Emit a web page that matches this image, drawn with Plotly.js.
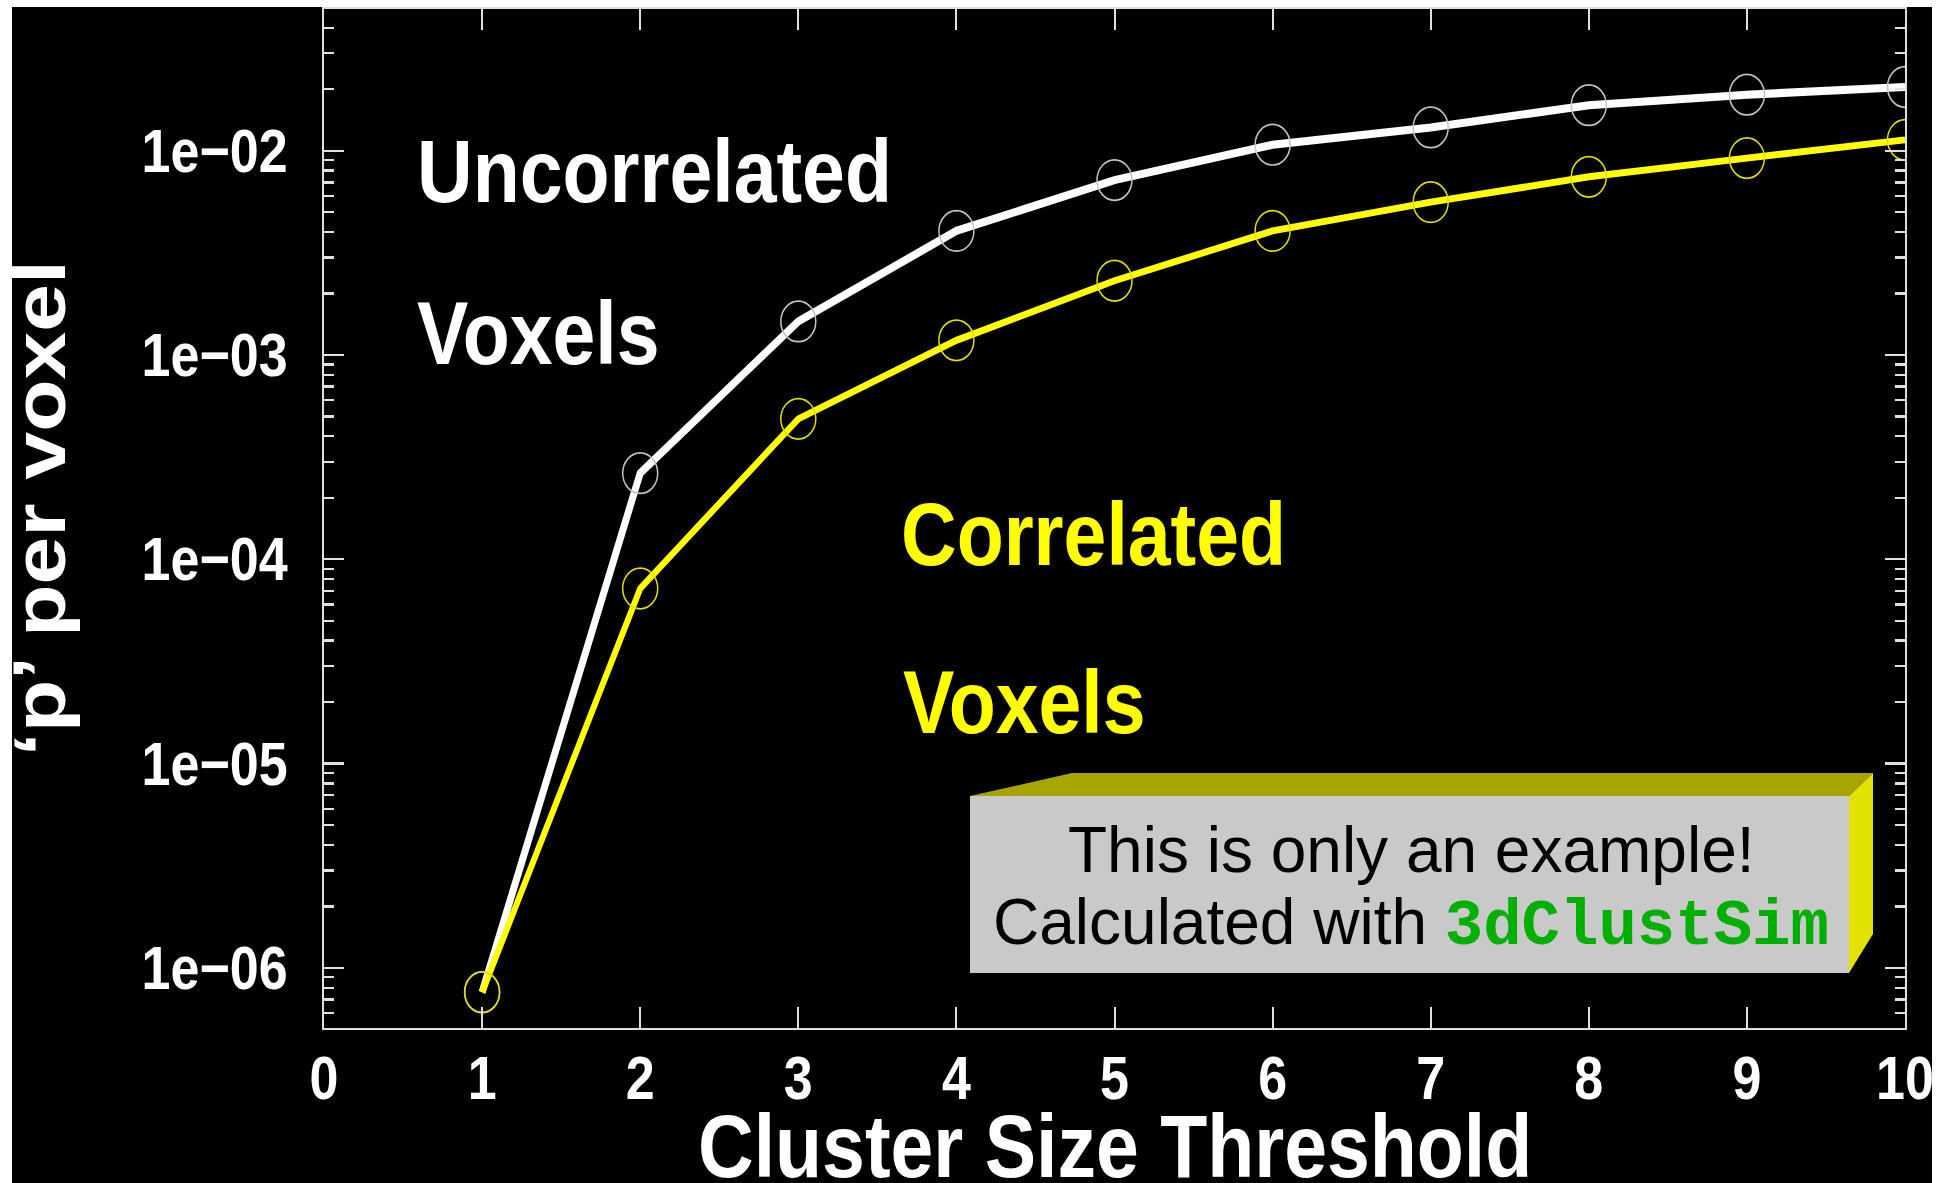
<!DOCTYPE html>
<html>
<head>
<meta charset="utf-8">
<script src="https://cdn.plot.ly/plotly-3.0.1.min.js"></script>
<style>
  html, body { margin: 0; padding: 0; background: #ffffff; width: 1948px; height: 1183px; overflow: hidden; }
  #chart { position: absolute; left: 12px; top: 7px; width: 1920px; height: 1014px;
           transform: scaleY(1.16); transform-origin: 0 0; }
  #note { position: absolute; left: 12px; top: 7px; width: 1920px; height: 1176px; pointer-events: none; }
</style>
</head>
<body>
<div id="chart"></div>
<div id="note"></div>
<script>
// ---- data ----
var clusterSize   = [1, 2, 3, 4, 5, 6, 7, 8, 9, 10];
var pUncorrelated = [7.6e-7, 2.64e-4, 1.46e-3, 4.05e-3, 7.18e-3, 1.07e-2, 1.30e-2, 1.67e-2, 1.88e-2, 2.05e-2];
var pCorrelated   = [7.6e-7, 7.2e-5, 4.87e-4, 1.18e-3, 2.31e-3, 4.05e-3, 5.6e-3, 7.45e-3, 9.2e-3, 1.13e-2];
var yTickVals  = [1e-6, 1e-5, 1e-4, 1e-3, 1e-2];
var yTickText  = ['1e\u221206', '1e\u221205', '1e\u221204', '1e\u221203', '1e\u221202'];
var xTickVals  = [0, 1, 2, 3, 4, 5, 6, 7, 8, 9, 10];

var SANS = 'Liberation Sans, Arial, Helvetica, sans-serif';
var AX = '#e0e0e0';

// page -> paper helpers for the stretched main chart (plot area in page px)
var M = {L: 324, R: 1905, T: 9.32, B: 1027.8};
function mx(p) { return (p - M.L) / (M.R - M.L); }
function my(p) { return 1 - (p - M.T) / (M.B - M.T); }

var traces = [
  {x: clusterSize, y: pUncorrelated, type: 'scatter', mode: 'lines+markers',
   line: {color: '#ffffff', width: 7},
   marker: {symbol: 'circle-open', size: 35, color: '#c4c4c4', line: {width: 1.5}},
   hoverinfo: 'skip'},
  {x: clusterSize, y: pCorrelated, type: 'scatter', mode: 'lines+markers',
   line: {color: '#ffff00', width: 6},
   marker: {symbol: 'circle-open', size: 35, color: '#dede00', line: {width: 1.5}},
   hoverinfo: 'skip'}
];

function lab(text, px, py, color, extra) {
  var a = {text: text, xref: 'paper', yref: 'paper', x: mx(px), y: my(py),
           xanchor: 'left', yanchor: 'middle', showarrow: false,
           font: {family: SANS, size: 77, color: color, weight: 'bold'}};
  for (var k in extra) a[k] = extra[k];
  return a;
}

var layout = {
  width: 1920, height: 1014,
  margin: {l: 312, r: 27, t: 2, b: 134, pad: 0},
  paper_bgcolor: '#000000', plot_bgcolor: '#000000',
  showlegend: false,
  xaxis: {range: [0, 10], tickmode: 'array', tickvals: xTickVals,
          ticks: 'inside', ticklen: 18, tickwidth: 2, tickcolor: AX,
          showline: true, linecolor: AX, linewidth: 2, mirror: 'ticks',
          showgrid: false, zeroline: false, ticklabelstandoff: -3,
          ticklabeloverflow: 'allow',
          tickfont: {family: SANS, size: 52, color: '#ffffff', weight: 'bold'}},
  yaxis: {type: 'log', range: [-6.293, -1.308], tickmode: 'array',
          tickvals: yTickVals, ticktext: yTickText,
          ticks: 'inside', ticklen: 20, tickwidth: 2, tickcolor: AX,
          minor: {ticks: 'inside', ticklen: 10, tickwidth: 2, tickcolor: AX, dtick: 'D1', showgrid: false},
          showline: true, linecolor: AX, linewidth: 2, mirror: 'ticks',
          showgrid: false, zeroline: false, ticklabelstandoff: 24,
          ticklabeloverflow: 'allow',
          tickfont: {family: SANS, size: 52, color: '#ffffff', weight: 'bold'}},
  annotations: [
    lab('Uncorrelated', 415, 170, '#ffffff'),
    lab('Voxels', 415, 333.5, '#ffffff'),
    lab('Correlated', 899, 534, '#ffff00'),
    lab('Voxels', 901, 702, '#ffff00'),
    lab('Cluster Size Threshold', 1115, 1146, '#ffffff', {xanchor: 'center'}),
    lab('\u2018p\u2019 per voxel', 40, 508, '#ffffff', {xanchor: 'center', textangle: -90, font: {family: SANS, size: 74, color: '#ffffff', weight: 'bold'}})
  ]
};

Plotly.newPlot('chart', traces, layout, {displayModeBar: false, staticPlot: true});

// ---- overlay: the 3-D note box (not stretched) ----
var N = {L: 324, R: 1905, T: 9, B: 1028};
function nx(p) { return (p - N.L) / (N.R - N.L); }
function ny(p) { return 1 - (p - N.T) / (N.B - N.T); }
function pathOf(pts) {
  return pts.map(function (q, i) { return (i ? 'L' : 'M') + nx(q[0]) + ',' + ny(q[1]); }).join(' ') + ' Z';
}
var box = {x0: 970, x1: 1849, y0: 796, y1: 973, dx: 24, dyTop: 23, backLeft: 1072, rightBottom: 934};

var noteLayout = {
  width: 1920, height: 1176,
  margin: {l: 312, r: 27, t: 2, b: 155, pad: 0},
  paper_bgcolor: 'rgba(0,0,0,0)', plot_bgcolor: 'rgba(0,0,0,0)',
  showlegend: false,
  xaxis: {visible: false, range: [0, 1]},
  yaxis: {visible: false, range: [0, 1]},
  shapes: [
    {type: 'path', xref: 'paper', yref: 'paper', layer: 'above', line: {width: 0},
     fillcolor: '#a9a500',
     path: pathOf([[box.x0, box.y0], [box.backLeft, box.y0 - box.dyTop], [box.x1 + box.dx, box.y0 - box.dyTop], [box.x1, box.y0]])},
    {type: 'path', xref: 'paper', yref: 'paper', layer: 'above', line: {width: 0},
     fillcolor: '#e2e200',
     path: pathOf([[box.x1, box.y0], [box.x1 + box.dx, box.y0 - box.dyTop], [box.x1 + box.dx, box.rightBottom], [box.x1, box.y1]])},
    {type: 'rect', xref: 'paper', yref: 'paper', layer: 'above', line: {width: 0},
     fillcolor: '#c9c9c9',
     x0: nx(box.x0), x1: nx(box.x1), y0: ny(box.y1), y1: ny(box.y0)}
  ],
  annotations: [
    {text: 'This is only an example!', xref: 'paper', yref: 'paper', x: nx(1411), y: ny(849.5),
     xanchor: 'center', yanchor: 'middle', showarrow: false,
     font: {family: SANS, size: 64, color: '#000000'}},
    {text: 'Calculated with <span style="font-family:Liberation Mono, Courier New, monospace;color:#00b000"><b>3dClustSim</b></span>',
     xref: 'paper', yref: 'paper', x: nx(1411), y: ny(924.5),
     xanchor: 'center', yanchor: 'middle', showarrow: false,
     font: {family: SANS, size: 64, color: '#000000'}}
  ]
};
Plotly.newPlot('note', [], noteLayout, {displayModeBar: false, staticPlot: true});
</script>
</body>
</html>
